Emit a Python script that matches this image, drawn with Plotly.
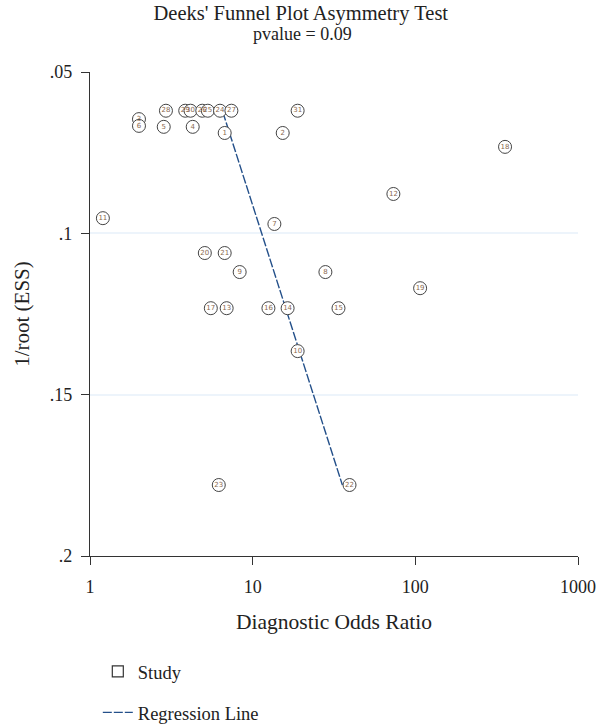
import plotly.graph_objects as go

# Study data: label, diagnostic odds ratio, 1/root(ESS)
study_labels = ["28", "29", "30", "26", "25", "24", "27", "31",
                "3", "6", "5", "4", "1", "2",
                "18", "12", "11", "7", "20", "21", "9", "8", "19",
                "17", "13", "16", "14", "15", "10", "23", "22"]
study_dor = [2.93, 3.85, 4.15, 4.9, 5.3, 6.3, 7.4, 18.9,
             2.0, 2.0, 2.84, 4.28, 6.73, 15.3,
             356, 73.3, 1.20, 13.6, 5.08, 6.73, 8.32, 28.0, 107,
             5.53, 6.92, 12.5, 16.4, 33.7, 18.9, 6.19, 39.4]
study_inv_ess = [0.062, 0.062, 0.062, 0.062, 0.062, 0.062, 0.062, 0.062,
                 0.0646, 0.0667, 0.067, 0.067, 0.0689, 0.0689,
                 0.0732, 0.0878, 0.0953, 0.0971, 0.1061, 0.1061, 0.112, 0.112, 0.117,
                 0.1232, 0.1232, 0.1232, 0.1232, 0.1232, 0.1365, 0.178, 0.178]

# Regression line (fitted endpoints)
reg_dor = [6.55, 35.6]
reg_inv_ess = [0.0624, 0.178]

# Axis ticks
x_tick_vals = [1, 10, 100, 1000]
x_tick_text = ["1", "10", "100", "1000"]
y_tick_vals = [0.05, 0.1, 0.15, 0.2]
y_tick_text = [".05", ".1", ".15", ".2"]

TITLE = "Deeks' Funnel Plot Asymmetry Test"
SUBTITLE = "pvalue = 0.09"

FONT = "Liberation Serif"
INK = "#222222"


def serif(size):
    return dict(family=FONT, size=size, color=INK)


fig = go.Figure()

fig.add_trace(go.Scatter(
    x=reg_dor, y=reg_inv_ess, mode="lines", name="Regression Line",
    line=dict(color="#24508a", width=1.4, dash="9px,2px"),
    legendgroup="b", legendrank=2,
))
fig.add_trace(go.Scatter(
    x=study_dor, y=study_inv_ess, mode="markers+text", text=study_labels,
    textposition="middle center",
    textfont=dict(family="DejaVu Sans", size=7, color="#8a6a50"),
    marker=dict(symbol="circle", size=13, color="white",
                line=dict(color="#444444", width=1)),
    showlegend=False, cliponaxis=False,
))
fig.add_trace(go.Scatter(
    x=[None], y=[None], mode="markers", name="Study",
    marker=dict(symbol="square-open", size=11, color="#333333", line=dict(width=1.2)),
    legendgroup="a", legendrank=1,
))

fig.update_layout(
    width=598, height=726,
    margin=dict(l=90, r=20, t=72, b=170, autoexpand=False),
    paper_bgcolor="white", plot_bgcolor="white",
    font=serif(18),
    title=dict(text=TITLE,
               x=0.503, xref="container", xanchor="center", y=1 - 13 / 726,
               yref="container", yanchor="middle", font=serif(20.5)),
    xaxis=dict(type="log", range=[0, 3], tickvals=x_tick_vals, ticktext=x_tick_text,
               showgrid=False, zeroline=False, showline=True, linecolor="#333333",
               linewidth=1.3, ticks="outside", ticklen=8, tickcolor="#333333",
               ticklabelstandoff=6, automargin=False, tickfont=serif(18),
               title=dict(text="Diagnostic Odds Ratio", standoff=18, font=serif(21.5))),
    yaxis=dict(range=[0.2, 0.05], tickvals=y_tick_vals, ticktext=y_tick_text,
               showgrid=True, gridcolor="#edf4fb", gridwidth=1.5, zeroline=False,
               showline=True, linecolor="#333333", linewidth=1.3,
               ticks="outside", ticklen=8, tickcolor="#333333",
               ticklabelstandoff=5, automargin=False, tickfont=serif(18),
               title=dict(text="1/root (ESS)", standoff=14, font=serif(21))),
    legend=dict(x=0.016, xanchor="left", y=-0.2, yanchor="top",
                orientation="v", tracegroupgap=14, font=serif(18.5),
                bgcolor="rgba(0,0,0,0)"),
    annotations=[dict(text=SUBTITLE, xref="paper", yref="paper",
                      x=(303 - 90) / 489, y=(556 - 34) / 484,
                      xanchor="center", yanchor="middle", showarrow=False,
                      font=serif(18))],
    showlegend=True,
)

fig.write_html("out.html",
               config={"displayModeBar": False},
               post_script="document.body.style.margin='0px';")
